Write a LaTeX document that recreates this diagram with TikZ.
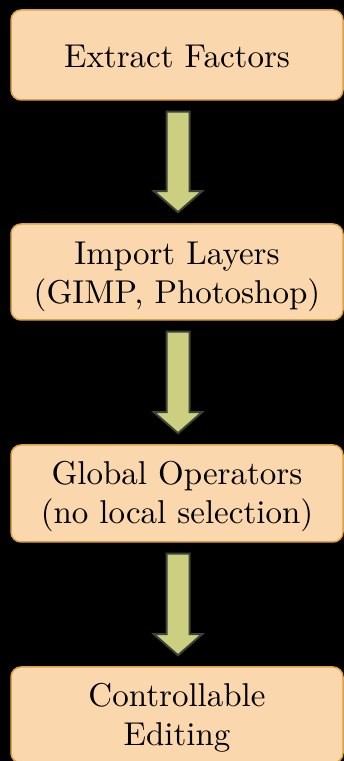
\documentclass[tikz,border=0pt]{standalone}
\usepackage{fontspec}
\setmainfont{lmroman10-regular.otf}
\usetikzlibrary{calc}
\definecolor{boxfill}{HTML}{FAD7AC}
\definecolor{boxline}{HTML}{D9A441}
\definecolor{arrowfill}{HTML}{CCCE80}
\definecolor{arrowline}{HTML}{3A4538}
\tikzset{
  stage/.style={draw=boxline, line width=1.5pt, fill=boxfill, rounded corners=10pt,
    minimum width=332pt, inner sep=0pt},
  caption/.style={label distance=0pt, inner sep=0pt, align=center,
    font=\fontsize{33}{39}\selectfont},
  flow/.style={draw=arrowline, line width=2pt, fill=arrowfill, line join=miter}
}
% block arrow pointing down from the bottom of #1 to the top of #2
\newcommand{\flowarrow}[2]{%
  \draw[flow] let \p1=($(#1.south)+(1pt,-11pt)$), \p2=($(#2.north)+(1pt,11pt)$) in
    (\x1-11.5pt,\y1) -- (\x1+11.5pt,\y1) -- (\x1+11.5pt,\y2+21pt) -- (\x1+24pt,\y2+21pt)
    -- (\x1,\y2) -- (\x1-24pt,\y2+21pt) -- (\x1-11.5pt,\y2+21pt) -- cycle;}
\begin{document}
\begin{tikzpicture}[x=1pt,y=1pt]
  \fill[black] (0,0) rectangle (344,761);
  \useasboundingbox (0,0) rectangle (344,761);
  \node[stage, minimum height=90pt,
    label={[caption, yshift=-1.5pt]center:Extract Factors}] (extract) at (177,706) {};
  \node[stage, minimum height=96pt,
    label={[caption, yshift=-5pt]center:Import Layers\\(GIMP, Photoshop)}] (import) at (177,489) {};
  \node[stage, minimum height=97pt,
    label={[caption, yshift=-3pt]center:Global Operators\\(no local selection)}] (global) at (177,267.5) {};
  \node[stage, minimum height=96pt,
    label={[caption, yshift=-2.5pt]center:Controllable\\Editing}] (control) at (177,46) {};
  \flowarrow{extract}{import}
  \flowarrow{import}{global}
  \flowarrow{global}{control}
\end{tikzpicture}
\end{document}
